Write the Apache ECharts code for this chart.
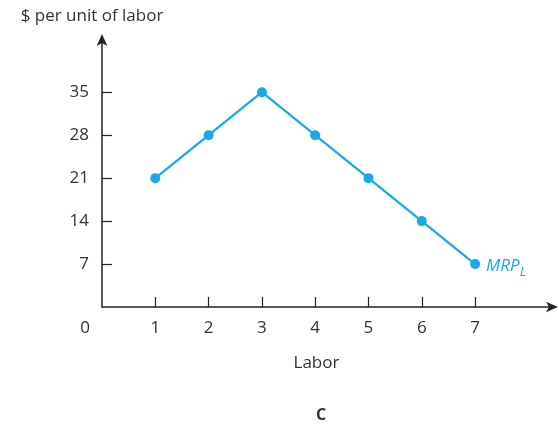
<!DOCTYPE html>
<html>
<head>
<meta charset="utf-8">
<script src="https://cdn.jsdelivr.net/npm/echarts@6/dist/echarts.min.js"></script>
<style>
  html, body { margin: 0; padding: 0; background: #fff; }
  #chart { width: 559px; height: 428px; }
</style>
</head>
<body>
<div id="chart"></div>
<script>
// Marginal revenue product of labor
const labor = [1, 2, 3, 4, 5, 6, 7];
const mrp = [21, 28, 35, 28, 21, 14, 7];
const xTicks = [0, 1, 2, 3, 4, 5, 6, 7];
const yTicks = [7, 14, 21, 28, 35];

const FONT = 'Open Sans';
const INK = '#333';
const BLUE = '#1aa9e6';

const chart = echarts.init(document.getElementById('chart'));
chart.setOption({
  animation: false,
  title: {
    text: 'C',
    left: 316, top: 402,
    textAlign: 'center',
    textStyle: { fontFamily: FONT, fontSize: 16, fontWeight: 'bold', color: INK }
  },
  grid: { left: 102, right: 4, top: 37, bottom: 121, containLabel: false },
  xAxis: {
    type: 'value', min: 0, max: 8.5,
    name: 'Labor', nameLocation: 'middle', nameGap: 48,
    nameTextStyle: { fontFamily: FONT, fontSize: 17, color: INK, padding: [0, 24, 0, 0] },
    axisLine: { show: true, symbol: ['none', 'arrow'], symbolSize: [8, 12], symbolOffset: [0, 3],
      lineStyle: { color: '#222', width: 1.5 } },
    axisTick: { show: true, inside: true, length: 10, customValues: labor,
      lineStyle: { color: '#222', width: 1.2 } },
    axisLabel: {
      customValues: xTicks, margin: 13,
      fontFamily: FONT, fontSize: 17, color: INK,
      formatter: v => v === 0 ? '{z|0}' : String(v),
      rich: { z: { fontFamily: FONT, fontSize: 17, color: INK, padding: [0, 34, 0, 0] } }
    },
    splitLine: { show: false }
  },
  yAxis: {
    type: 'value', min: 0, max: 44,
    name: '$ per unit of labor', nameLocation: 'end', nameGap: 12,
    nameTextStyle: { fontFamily: FONT, fontSize: 17, color: INK, align: 'center', padding: [0, 20, 0, 0] },
    axisLine: { show: true, symbol: ['none', 'arrow'], symbolSize: [8, 12], symbolOffset: [0, 3],
      lineStyle: { color: '#222', width: 1.5 } },
    axisTick: { show: true, inside: true, length: 10, customValues: yTicks,
      lineStyle: { color: '#222', width: 1.2 } },
    axisLabel: { customValues: yTicks, margin: 13, padding: [5, 0, 0, 0],
      fontFamily: FONT, fontSize: 17, color: INK },
    splitLine: { show: false }
  },
  series: [{
    type: 'line',
    data: labor.map((x, i) => [x, mrp[i]]),
    symbol: 'circle', symbolSize: 10,
    lineStyle: { color: BLUE, width: 2.2 },
    itemStyle: { color: BLUE },
    endLabel: {
      show: true, distance: 11,
      formatter: '{m|MRP}{s|L}',
      rich: {
        m: { fontFamily: FONT, fontStyle: 'italic', fontSize: 17, color: BLUE, padding: [4, 0, 0, 0] },
        s: { fontFamily: FONT, fontStyle: 'italic', fontSize: 13, color: BLUE, padding: [16, 0, 0, 0] }
      }
    }
  }]
});
</script>
</body>
</html>
